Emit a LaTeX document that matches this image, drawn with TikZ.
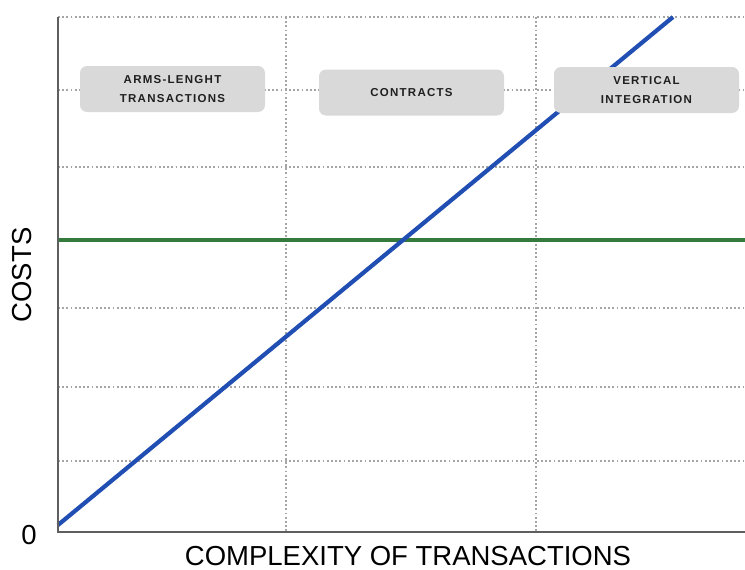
\documentclass[tikz,border=0pt]{standalone}
\usepackage{fontspec}
\setmainfont{Liberation Sans}
\newfontfamily\boxfont[LetterSpace=11]{Liberation Sans}
\definecolor{gridgray}{RGB}{165,165,165}
\definecolor{axisgray}{RGB}{95,95,95}
\definecolor{boxgray}{RGB}{217,217,217}
\definecolor{costblue}{RGB}{32,78,178}
\definecolor{costgreen}{RGB}{52,122,58}
\begin{document}
\begin{tikzpicture}[x=1pt,y=-1pt,
  gridline/.style={draw=gridgray, line width=1.8pt, dash pattern=on 1.8pt off 2.4pt},
  axisline/.style={draw=axisgray, line width=2pt},
  labelbox/.style={fill=boxgray, rounded corners=7pt, minimum width=185pt, minimum height=46pt, inner sep=0pt, align=center, font=\boxfont\bfseries\fontsize{11.5}{19}\selectfont, text=black!88},
  axislabel/.style={font=\fontsize{27.5}{30}\selectfont, text=black, inner sep=0pt}]
\useasboundingbox (0,0) rectangle (745,570);
% grid
\foreach \gy in {17,90,167,308,387,461}{
  \draw[gridline] (58,\gy) -- (745,\gy);
}
\foreach \gx in {286,536}{
  \draw[gridline] (\gx,17) -- (\gx,532);
}
% named points
\coordinate (top) at (58,17);
\coordinate (origin) at (58,532);
\coordinate (xend) at (745,532);
\coordinate (gstart) at (58,240);
\coordinate (gend) at (745,240);
\coordinate (bstart) at (58,525);
\coordinate (bend) at (673,17);
% cost lines
\draw[costgreen, line width=4pt] (gstart) -- (gend);
\draw[costblue, line width=4.2pt] (bstart) -- (bend);
% axes
\draw[axisline] (top) -- (origin) -- (xend);
% boxes
\node[labelbox] (arms) at (172.5,89) {ARMS-LENGHT\\TRANSACTIONS};
\node[labelbox] (contracts) at (411.5,92.5) {CONTRACTS};
\node[labelbox] (vertical) at (646.5,90) {VERTICAL\\INTEGRATION};
% axis labels
\node[axislabel] (zero) at (29,535) {0};
\node[axislabel, rotate=90] (costs) at (22,275) {COSTS};
\node[axislabel] (complexity) at (408,556) {COMPLEXITY OF TRANSACTIONS};
\end{tikzpicture}
\end{document}
